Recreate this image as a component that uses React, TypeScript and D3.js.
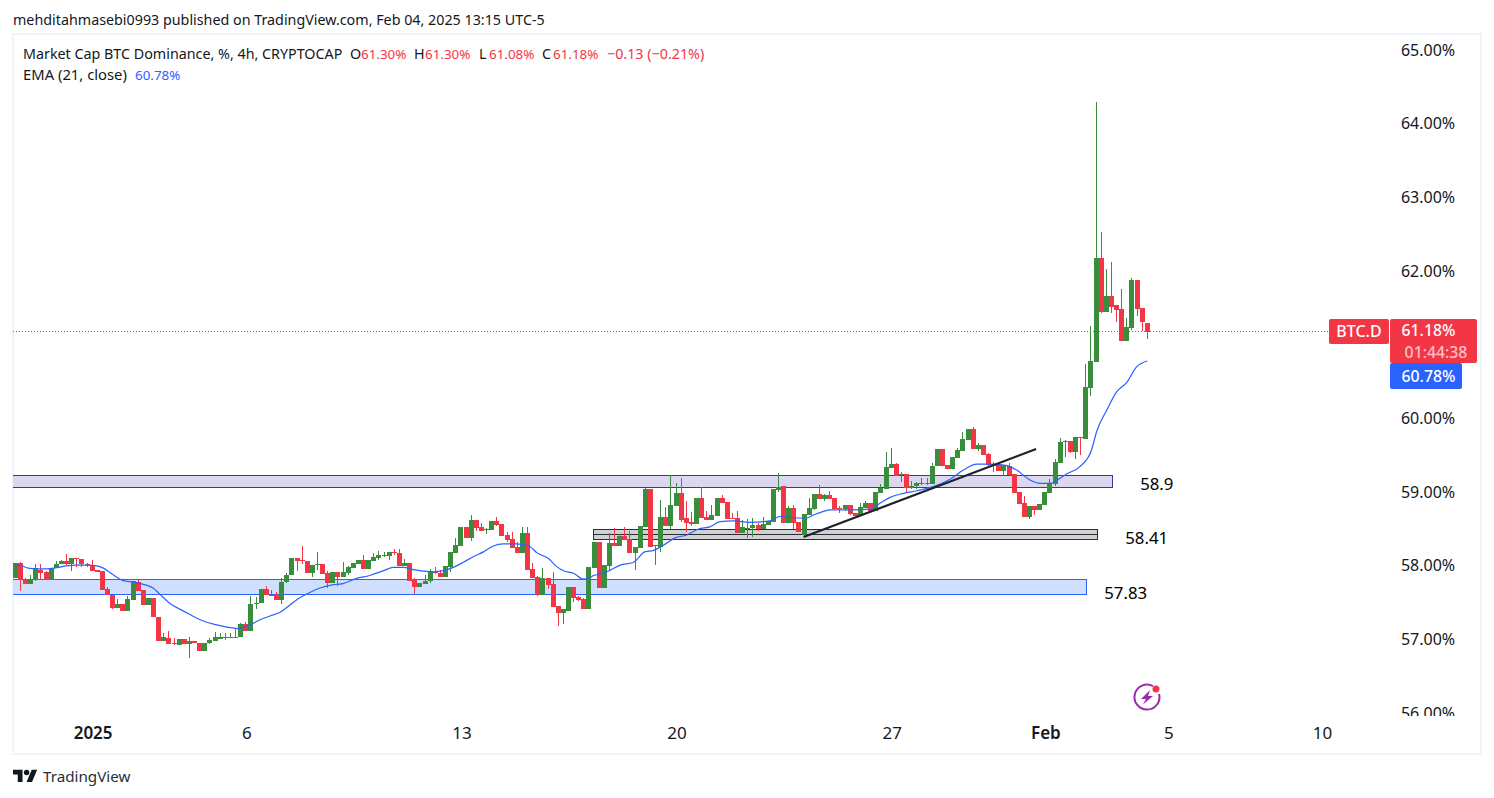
import * as d3 from "d3";

// BTC.D 4h candles
const opens = [
  57.84,58.04,57.82,57.75,57.81,57.95,57.92,57.81,57.97,58.02,
  58.06,58.03,58.11,58.09,58.02,58.01,57.94,57.93,57.68,57.60,
  57.43,57.48,57.39,57.54,57.78,57.67,57.47,57.56,57.31,56.98,
  57.02,56.95,56.93,57.01,56.94,56.98,56.95,56.85,56.96,56.98,
  57.01,57.04,57.03,57.03,57.03,57.21,57.12,57.48,57.49,57.68,
  57.61,57.60,57.54,57.78,57.87,58.11,58.08,58.07,57.91,58.01,
  58.03,57.90,57.77,57.92,57.85,57.91,57.97,58.03,58.08,57.96,
  58.07,58.11,58.14,58.13,58.19,58.17,58.00,58.04,57.82,57.71,
  57.75,57.79,57.92,57.91,57.85,57.99,58.17,58.27,58.53,58.38,
  58.62,58.53,58.49,58.49,58.61,58.57,58.42,58.36,58.26,58.17,
  58.45,57.96,57.85,57.60,57.84,57.75,57.46,57.36,57.39,57.71,
  57.58,57.55,57.42,57.97,58.32,57.70,58.00,58.31,58.27,58.41,
  58.37,58.17,58.24,58.53,59.04,58.27,58.26,58.66,58.54,58.81,
  58.99,58.65,58.60,58.57,58.92,58.66,58.62,58.68,58.92,58.87,
  58.65,58.65,58.45,58.505,58.51,58.55,58.50,58.55,58.60,59.03,
  59.08,58.58,58.79,58.60,58.42,58.69,58.77,58.98,58.91,58.96,
  58.92,58.79,58.77,58.83,58.72,58.68,58.79,58.85,58.75,58.99,
  59.04,59.33,59.38,59.24,59.25,59.06,59.08,59.12,59.13,59.11,
  59.35,59.59,59.37,59.32,59.46,59.56,59.71,59.86,59.59,59.64,
  59.52,59.38,59.37,59.29,59.36,59.25,59.00,58.85,58.66,58.81,
  58.76,58.83,58.99,59.11,59.40,59.685,59.69,59.545,59.75,59.72,
  60.42,60.77,62.18,61.44,61.66,61.54,61.48,61.05,61.23,61.88,61.50,61.30,
];
const highs = [
  58.04,58.05,57.84,57.88,58.03,58.03,57.93,57.97,58.07,58.08,
  58.16,58.11,58.11,58.09,58.04,58.08,57.94,57.93,57.71,57.60,
  57.55,57.48,57.59,57.79,57.82,57.67,57.57,57.56,57.31,57.09,
  57.11,57.02,57.01,57.01,57.03,56.98,56.95,56.96,57.02,57.10,
  57.09,57.09,57.09,57.15,57.22,57.24,57.59,57.58,57.68,57.73,
  57.67,57.64,57.84,57.91,58.11,58.11,58.27,58.07,58.01,58.19,
  58.03,57.93,57.92,57.92,58.05,58.00,58.04,58.08,58.15,58.08,
  58.17,58.20,58.19,58.19,58.23,58.23,58.09,58.04,57.84,57.77,
  57.88,57.96,57.99,57.95,58.00,58.19,58.38,58.53,58.53,58.69,
  58.62,58.58,58.51,58.61,58.66,58.57,58.46,58.46,58.32,58.53,
  58.53,58.04,57.86,57.97,57.84,57.92,57.46,57.42,57.71,57.71,
  57.59,57.56,57.99,58.32,58.32,58.01,58.45,58.51,58.43,58.53,
  58.47,58.26,58.54,59.06,59.04,58.28,58.89,58.80,59.23,59.12,
  59.19,58.88,58.73,58.92,59.07,58.75,58.83,58.92,58.96,58.87,
  58.72,58.75,58.62,58.64,58.65,58.58,58.66,58.61,59.04,59.26,
  59.08,58.81,58.83,58.60,58.70,58.92,58.98,59.10,58.98,59.02,
  58.92,58.81,58.83,58.83,58.72,58.85,58.88,58.85,59.00,59.11,
  59.55,59.60,59.40,59.27,59.25,59.15,59.14,59.19,59.19,59.40,
  59.59,59.59,59.37,59.48,59.60,59.82,59.86,59.885,59.67,59.64,
  59.53,59.41,59.37,59.37,59.40,59.25,59.00,58.95,58.81,58.81,
  58.84,59.00,59.18,59.45,59.735,59.71,59.69,59.75,59.75,60.74,
  61.26,64.29,62.53,62.03,62.12,61.54,61.76,61.36,61.91,61.88,61.50,61.30,
];
const lows = [
  57.84,57.66,57.75,57.75,57.80,57.81,57.81,57.81,57.97,58.02,
  58.01,57.93,57.99,57.99,57.99,57.93,57.92,57.67,57.60,57.41,
  57.43,57.39,57.39,57.54,57.66,57.47,57.47,57.30,56.98,56.98,
  56.94,56.93,56.93,56.94,56.75,56.95,56.85,56.84,56.94,56.98,
  57.01,57.00,57.03,57.03,57.03,57.11,57.12,57.41,57.49,57.61,
  57.60,57.54,57.48,57.77,57.87,57.93,58.03,57.91,57.85,57.95,
  57.89,57.70,57.77,57.73,57.85,57.88,57.97,58.03,57.96,57.96,
  58.06,58.08,58.12,58.08,58.15,58.00,58.00,57.80,57.62,57.71,
  57.75,57.77,57.89,57.85,57.85,57.92,58.17,58.27,58.38,58.34,
  58.47,58.47,58.43,58.49,58.54,58.41,58.32,58.24,58.17,58.17,
  57.95,57.84,57.59,57.60,57.69,57.44,57.18,57.21,57.39,57.51,
  57.52,57.42,57.42,57.97,57.70,57.70,57.94,58.27,58.27,58.35,
  58.17,57.94,58.24,58.53,58.26,58.01,58.19,58.54,58.50,58.81,
  58.60,58.46,58.54,58.57,58.65,58.62,58.62,58.68,58.85,58.64,
  58.64,58.45,58.45,58.38,58.39,58.47,58.50,58.55,58.60,59.00,
  58.58,58.58,58.50,58.46,58.41,58.69,58.76,58.91,58.88,58.91,
  58.77,58.72,58.745,58.69,58.68,58.68,58.79,58.75,58.75,58.99,
  59.04,59.33,59.22,59.14,58.99,59.04,59.04,59.10,59.10,59.11,
  59.35,59.36,59.32,59.32,59.46,59.56,59.71,59.59,59.56,59.51,
  59.34,59.27,59.29,59.22,59.22,58.99,58.84,58.66,58.64,58.69,
  58.76,58.83,58.99,59.08,59.40,59.48,59.53,59.45,59.50,59.72,
  60.31,60.77,61.43,61.44,61.43,61.31,61.05,61.05,61.20,61.39,61.19,61.08,
];
const closes = [
  58.04,57.82,57.75,57.82,57.97,57.91,57.81,57.97,58.03,58.06,
  58.03,58.11,58.10,58.02,58.01,57.93,57.92,57.67,57.60,57.43,
  57.48,57.39,57.55,57.79,57.66,57.47,57.56,57.30,56.98,57.03,
  56.94,56.94,57.01,56.94,56.98,56.95,56.85,56.96,56.99,57.03,
  57.04,57.03,57.04,57.025,57.21,57.12,57.48,57.50,57.68,57.61,
  57.60,57.54,57.78,57.88,58.11,58.07,58.07,57.91,58.01,58.03,
  57.89,57.77,57.92,57.85,57.92,57.98,58.04,58.08,57.96,58.08,
  58.12,58.15,58.15,58.19,58.18,58.00,58.04,57.80,57.71,57.77,
  57.80,57.93,57.91,57.85,58.00,58.19,58.28,58.53,58.38,58.62,
  58.51,58.47,58.50,58.61,58.56,58.41,58.35,58.24,58.17,58.45,
  57.95,57.84,57.60,57.84,57.74,57.44,57.36,57.42,57.71,57.56,
  57.54,57.42,57.99,58.32,57.70,58.01,58.31,58.27,58.41,58.35,
  58.17,58.26,58.54,59.04,58.26,58.28,58.66,58.54,58.83,58.99,
  58.62,58.58,58.57,58.92,58.65,58.62,58.69,58.92,58.85,58.64,
  58.64,58.45,58.53,58.515,58.55,58.50,58.57,58.61,59.04,59.07,
  58.58,58.79,58.58,58.46,58.70,58.79,58.98,58.91,58.96,58.91,
  58.77,58.78,58.83,58.70,58.68,58.80,58.85,58.75,59.00,59.06,
  59.34,59.38,59.22,59.25,59.06,59.08,59.12,59.13,59.12,59.36,
  59.59,59.36,59.32,59.48,59.57,59.72,59.86,59.59,59.64,59.51,
  59.37,59.36,59.29,59.37,59.23,58.99,58.84,58.66,58.81,58.76,
  58.84,59.00,59.12,59.41,59.68,59.69,59.545,59.75,59.735,60.43,
  60.78,62.18,61.44,61.66,61.51,61.47,61.05,61.24,61.88,61.48,61.31,61.18,
];

// EMA 21, read at these bars
const emaBars = [
  0,1.3,2.5,4.2,6.1,8.1,10,12,13.9,15.9,17.2,19.1,21.1,23,25,26.9,28.3,30.2,32.2,34.1,36.1,38.7,41.3,43.5,45.5,47.8,49.7,51.7,53.6,55.6,
  57.5,59.5,62.1,64,66.6,69.2,71.9,73.8,75.8,77.7,79.7,81.6,83.6,85.5,87.5,89.4,91.4,93.3,95.3,97.9,100.5,101.8,104.1,105.7,107,109,110.9,111.9,112.9,
  113.5,115.5,118.1,120.7,122.9,124.6,126.5,128.8,131.1,133.4,135.6,137.6,140.2,143.4,147.3,149.3,152.6,154.5,155.8,157.8,159.1,
  163,166.9,168.8,170.8,173.4,176,179.2,182.5,185.1,187.7,190.3,193.6,195.5,198.1,200.1,202,203.3,205.3,207.9,210.1,211.1,213.1,215,217,218.9,221,
];
const emaValues = [
  58.01,58.00,57.97,57.96,57.96,57.975,58.00,58.01,58.01,58.00,57.97,57.88,57.80,57.78,57.75,57.70,57.61,57.49,57.41,57.34,57.27,57.21,57.17,57.15,57.19,57.27,57.32,57.37,57.47,57.57,
  57.64,57.70,57.745,57.76,57.83,57.87,57.935,57.98,57.98,57.95,57.93,57.92,57.935,57.98,58.05,58.125,58.19,58.27,58.30,58.30,58.26,58.18,58.10,57.99,57.935,57.90,57.82,57.83,57.87,
  57.88,57.92,58.01,58.05,58.19,58.21,58.28,58.38,58.42,58.50,58.53,58.60,58.61,58.59,58.61,58.67,58.65,58.65,58.69,58.74,58.76,
  58.76,58.77,58.85,58.93,58.985,59.02,59.075,59.175,59.30,59.38,59.38,59.36,59.30,59.165,59.12,59.12,59.16,59.25,59.35,59.57,59.82,60.115,60.36,60.49,60.70,60.78,
];

const priceTicks = [65, 64, 63, 62, 60, 59, 58, 57, 56];
const timeBars = [15, 45, 87, 129, 171, 201, 225, 255];
const timeLabels = ["2025", "6", "13", "20", "27", "Feb", "5", "10"];
const boldTimeLabels = ["2025", "Feb"];

// drawn zones: purple, grey, blue
const zoneFrom = [-1, 112.8, -1];
const zoneTo = [214.1, 211.2, 209];
const zoneLow = [59.07, 58.36, 57.61];
const zoneHigh = [59.23, 58.497, 57.82];
const zoneLabels = ["58.9", "58.41", "57.83"];
const zoneLabelBars = [219.6, 216.7, 212.6];
const zoneLabelValues = [59.03, 58.30, 57.555];
const zoneFill = ["#dcd6ee", "#d1d1d4", "#d1dfff"];
const zoneStroke = ["#4a2e9c", "#2a2e39", "#2962ff"];
const greyMidline = 58.43;

const trendBars = [153.9, 199.3];
const trendValues = [58.392, 59.586];

const RED = "#f23645";
const GREEN = "#388e3c";
const BLUE = "#2962ff";
const INK = "#131722";
const FONT = "'Noto Sans', sans-serif";

const x = d3.scaleLinear().domain([0, 221]).range([15.3, 1147.3]);
const y = d3.scaleLinear().domain([56, 65]).range([713.3, 50]);

const emaLine = d3
  .line<number>()
  .x((d) => x(d))
  .y((_, i) => y(emaValues[i]))
  .curve(d3.curveMonotoneX);

const trendLine = d3
  .line<number>()
  .x((d) => x(d))
  .y((_, i) => y(trendValues[i]));

const BAR_W = 5;

export default function App() {
  const lastY = Math.floor(y(closes[closes.length - 1]));
  return (
    <svg
      width={1494}
      height={798}
      style={{ position: "absolute", left: 0, top: 0, background: "#fff" }}
      fontFamily={FONT}
    >
      <defs>
        <clipPath id="pane">
          <rect x={13} y={35} width={1468} height={681} />
        </clipPath>
      </defs>

      <text x={13} y={25} fontSize={14.3} fill={INK}>
        mehditahmasebi0993 published on TradingView.com, Feb 04, 2025 13:15 UTC-5
      </text>
      <rect x={13} y={34} width={1468} height={720} fill="none" stroke="#f0f3fa" strokeWidth={2} />

      <g clipPath="url(#pane)">
        {/* zones */}
        {zoneFrom.map((from, i) => (
          <rect
            key={i}
            x={Math.round(x(from)) + 0.5}
            y={Math.round(y(zoneHigh[i])) + 0.5}
            width={Math.round(x(zoneTo[i]) - x(from))}
            height={Math.round(y(zoneLow[i]) - y(zoneHigh[i]))}
            fill={zoneFill[i]}
            stroke={zoneStroke[i]}
          />
        ))}
        <line
          x1={x(zoneFrom[1])}
          x2={x(zoneTo[1])}
          y1={Math.round(y(greyMidline)) + 0.5}
          y2={Math.round(y(greyMidline)) + 0.5}
          stroke={zoneStroke[1]}
        />

        {/* last price line */}
        <line x1={13} x2={1330} y1={lastY + 0.5} y2={lastY + 0.5} stroke={RED} strokeDasharray="1 2" />

        {/* candles */}
        {opens.map((o, i) => {
          const c = closes[i];
          const col = c >= o ? GREEN : RED;
          const cx = x(i);
          const top = Math.round(y(Math.max(o, c)));
          const bot = Math.round(y(Math.min(o, c)));
          const hi = Math.round(y(highs[i]));
          const lo = Math.round(y(lows[i]));
          return (
            <g key={i} fill={col} shapeRendering="crispEdges">
              <rect x={Math.round(cx - 0.5)} y={hi} width={1} height={Math.max(1, lo - hi)} />
              <rect x={Math.round(cx - BAR_W / 2)} y={top} width={BAR_W} height={Math.max(1, bot - top)} />
            </g>
          );
        })}

        <path d={emaLine(emaBars) ?? ""} fill="none" stroke={BLUE} strokeWidth={1.2} />
        <path d={trendLine(trendBars) ?? ""} fill="none" stroke="#1e222d" strokeWidth={2.2} />
      </g>

      {zoneLabels.map((t, i) => (
        <text key={t} x={x(zoneLabelBars[i])} y={y(zoneLabelValues[i])} fontSize={16.8} fill="#000">
          {t}
        </text>
      ))}

      {/* legend */}
      <g fontSize={14.3}>
        <text x={23} y={59} fill={INK}>Market Cap BTC Dominance, %, 4h, CRYPTOCAP</text>
        <text x={350} y={59} fill={INK}>O</text>
        <text x={414} y={59} fill={INK}>H</text>
        <text x={479} y={59} fill={INK}>L</text>
        <text x={542} y={59} fill={INK}>C</text>
        <text x={607} y={59} fill={RED}>−0.13 (−0.21%)</text>
        <text x={23} y={80} fontSize={14.8} fill={INK}>EMA (21, close)</text>
      </g>
      <g fontSize={13.4}>
        <text x={361} y={59} fill={RED}>61.30%</text>
        <text x={425} y={59} fill={RED}>61.30%</text>
        <text x={489} y={59} fill={RED}>61.08%</text>
        <text x={553} y={59} fill={RED}>61.18%</text>
        <text x={135} y={80} fill={BLUE}>60.78%</text>
      </g>

      {/* price axis */}
      <g clipPath="url(#pane)" fontSize={16} fill={INK}>
        {priceTicks.map((t) => (
          <text key={t} x={1428} y={y(t) + 5.5} textAnchor="middle">
            {t.toFixed(2)}%
          </text>
        ))}
      </g>

      {/* tags */}
      <rect x={1329} y={lastY - 12} width={60} height={25} rx={2} fill={RED} />
      <text x={1359} y={lastY + 6} textAnchor="middle" fontSize={16} fontWeight={500} fill="#fff">BTC.D</text>
      <rect x={1390} y={lastY - 12} width={87} height={44} rx={2} fill={RED} />
      <text x={1428.5} y={lastY + 5} textAnchor="middle" fontSize={15.8} fontWeight={500} fill="#fff">61.18%</text>
      <text x={1436} y={lastY + 27} textAnchor="middle" fontSize={15.8} fontWeight={500} fill="#fbc2c7">01:44:38</text>
      <rect x={1390} y={lastY + 32} width={72} height={26} rx={2} fill={BLUE} />
      <text x={1428.5} y={lastY + 51} textAnchor="middle" fontSize={15.8} fontWeight={500} fill="#fff">60.78%</text>

      {/* time axis */}
      <g fontSize={17} fill={INK} textAnchor="middle">
        {timeBars.map((b, i) => (
          <text key={b} x={x(b) + 1} y={739} fontWeight={boldTimeLabels.includes(timeLabels[i]) ? 600 : 400}>
            {timeLabels[i]}
          </text>
        ))}
      </g>

      {/* snapshot bolt badge */}
      <g transform="translate(1147,697)">
        <path d="M 6 -10.9 A 12.5 12.5 0 1 0 12.1 -3" fill="none" stroke="#9c27b0" strokeWidth={2} />
        <path d="M 3 -7 L -6 2 L -1 2 L -4 7.5 L 6 -1 L 1 -1 Z" fill="#9c27b0" />
        <circle cx={9} cy={-8} r={3.5} fill={RED} />
      </g>

      {/* logo */}
      <g transform="translate(13,767) scale(0.68)" fill={INK}>
        <path d="M14 22H7V11H0V4h14v18zM28 22h-8l7.5-18h8L28 22z" />
        <circle cx={20} cy={8} r={4} />
      </g>
      <text x={43} y={782} fontSize={15.2} fill="#2a2e39">TradingView</text>
    </svg>
  );
}
